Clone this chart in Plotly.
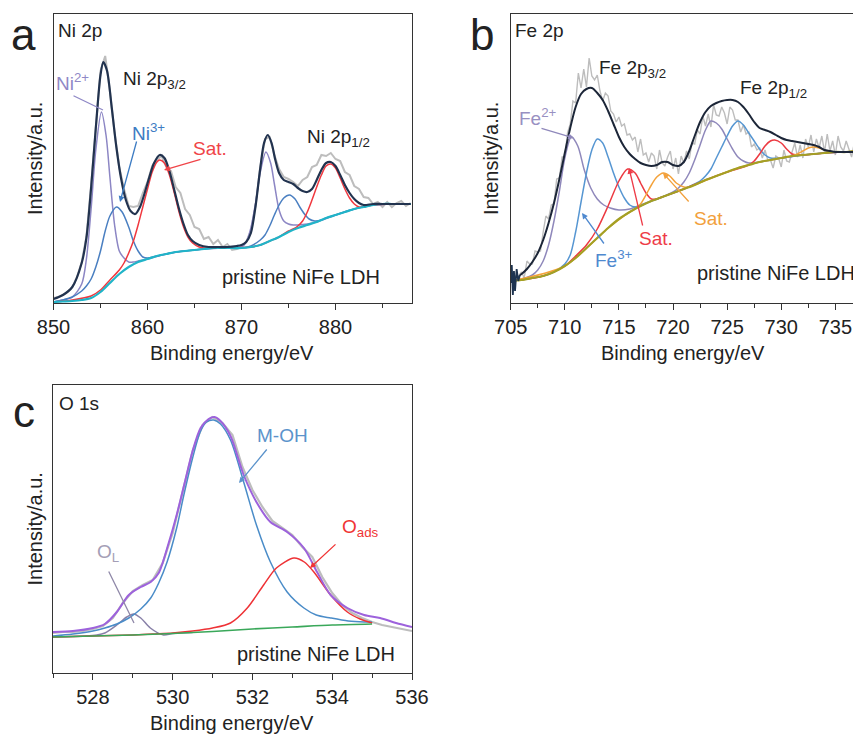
import plotly.graph_objects as go

# ---------------- Panel a : Ni 2p ----------------
NI_BG_X = [850, 851, 852, 853, 854, 855, 856, 857, 858, 859, 860, 861, 862, 863, 864, 865, 866, 867, 868, 869,
           870, 871, 872, 873, 874, 875, 876, 877, 878, 879, 880, 881, 882, 883, 884, 885, 886, 887, 888]
NI_BG_Y = [1, 1.5, 2, 3, 5, 11, 20, 29, 36, 41, 44, 47, 49, 51, 52, 53, 54, 55, 55, 55,
           55, 56, 58, 62, 66, 71, 75, 78, 81, 85, 88, 91, 94, 96, 98, 99, 99, 99, 99]

NI2_X = [850, 851, 852, 853, 853.5, 854, 854.5, 855.1, 855.6, 856, 856.5, 857, 857.5, 858, 858.5, 859, 860, 862,
         864, 866, 868, 869, 870, 870.5, 871, 871.5, 872, 872.6, 873.1, 873.5, 874, 874.5, 875, 875.5, 876, 877,
         878, 880, 882, 884, 886, 888]
NI2_Y = [1, 3, 6, 19, 44, 94, 153, 191, 167, 126, 78, 52, 45, 41, 41, 42, 44, 49,
         52, 54, 55, 55, 56, 61, 75, 100, 131, 151, 140, 119, 93, 82, 79, 78, 78, 79,
         81, 88, 94, 98, 99, 99]

NI3_X = [850, 851, 852, 853, 853.5, 854, 854.5, 855, 855.5, 856, 856.7, 857.3, 858, 858.5, 859, 859.5, 860, 861,
         863, 865, 867, 869, 870, 871, 872, 872.5, 873, 873.5, 874, 874.5, 875.1, 875.7, 876.2, 876.7, 877.2,
         877.8, 878.5, 879, 880, 882, 884, 886, 888]
NI3_Y = [1, 3, 6, 12, 17, 24, 36, 52, 72, 87, 96, 91, 76, 62, 52, 46, 45, 47,
         51, 53, 55, 55, 55, 57, 63, 68, 77, 88, 98, 105, 108, 104, 96, 89, 84,
         82, 83, 85, 88, 94, 98, 99, 99]

NI_SAT_X = [850, 852, 854, 855, 856, 857, 857.5, 858, 858.5, 859, 859.5, 860, 860.5, 861, 861.3, 861.8, 862.3,
            862.8, 863.3, 863.8, 864.3, 864.8, 865.5, 866, 867, 869, 871, 872, 873, 874, 875, 875.5, 876, 876.5,
            877, 877.5, 878, 878.5, 879, 879.5, 880, 880.5, 881, 881.5, 882, 882.5, 883, 884, 886, 888]
NI_SAT_Y = [1, 3, 7, 13, 23, 33, 40, 50, 62, 78, 96, 114, 131, 141, 143, 140, 129,
            112, 93, 77, 66, 60, 56, 55, 55, 55, 56, 58, 62, 66, 72, 74, 77, 82,
            91, 103, 116, 128, 137, 139, 135, 125, 114, 105, 99, 96, 96, 98, 99, 99]

NI_ENV_X = [850, 851, 852, 853, 853.5, 854, 854.5, 855, 855.3, 855.7, 856.2, 856.7, 857.2, 857.7, 858.2, 858.7,
            859.2, 859.7, 860.2, 860.7, 861.3, 861.8, 862.3, 862.8, 863.3, 863.8, 864.3, 864.8, 865.5, 866.5,
            867.5, 868.5, 869.5, 870, 870.5, 871, 871.5, 872, 872.4, 872.8, 873.2, 873.6, 874, 874.5, 875,
            875.5, 876, 876.5, 877, 877.5, 878, 878.5, 879, 879.5, 880, 880.5, 881, 881.5, 882, 882.5, 883,
            884, 885, 886, 887, 888]
NI_ENV_Y = [4, 8, 16, 40, 65, 115, 175, 228, 241, 232, 195, 155, 124, 103, 92, 89,
            96, 110, 126, 140, 148, 145, 133, 115, 96, 80, 68, 62, 58, 56,
            56, 56, 57, 58, 61, 70, 97, 135, 160, 168, 160, 143, 130, 123, 121,
            119, 115, 112, 111, 114, 123, 133, 140, 141, 137, 128, 118, 110, 104, 100, 98,
            99, 99, 99, 99, 99]

NI_RAW_X0, NI_RAW_STEP = 850, 0.5
NI_RAW_Y = [5, 6, 8, 11, 16, 26, 41, 66, 118, 178, 232, 247, 212, 170, 136, 114, 97, 96, 97, 110,
            121, 137, 143, 147, 136, 132, 116, 110, 94, 88, 76, 74, 64, 66, 59, 63, 56, 59, 53, 54,
            56, 61, 72, 98, 136, 164, 166, 148, 134, 126, 124, 121, 117, 123, 126, 136, 138, 148, 147,
            150, 144, 142, 131, 128, 117, 114, 106, 105, 99, 101, 96, 101, 96, 100, 102, 97, 100]

# ---------------- Panel b : Fe 2p ----------------
FE_BG_X = [705, 706, 707, 708, 709, 710, 711, 712, 713, 714, 715, 716, 717, 718, 719, 720, 721, 722, 723, 724,
           725, 726, 727, 728, 729, 730, 731, 732, 733, 734, 735, 736, 737, 737.4]
FE_BG_Y = [22, 23, 25, 27, 31, 37, 45, 55, 65, 75, 84, 91, 97, 102, 106, 110, 114, 118, 123, 127,
           131, 135, 138, 141, 143, 145, 147, 148, 149, 150, 151, 151, 152, 152]

FE2_X = [705, 706, 707, 707.5, 708, 708.5, 709, 709.5, 710, 710.6, 711.2, 711.8, 712.4, 713, 713.6, 714.2, 715,
         716, 717, 718, 719, 720, 720.5, 721, 721.5, 722, 722.5, 723, 723.5, 724, 724.5, 725, 725.5, 726, 726.5,
         727, 728, 730, 732, 734, 736, 737.4]
FE2_Y = [22, 24, 28, 33, 42, 58, 82, 112, 145, 166, 157, 133, 115, 104, 98, 95, 93,
         94, 98, 102, 106, 111, 115, 121, 130, 143, 158, 173, 182, 180, 174, 164, 154, 146, 142,
         140, 141, 145, 148, 150, 151, 152]

FE3_X = [705, 707, 708, 709, 710, 710.5, 711, 711.5, 712, 712.5, 713, 713.5, 714, 714.5, 715, 715.5, 716, 716.5,
         717, 718, 719, 720, 721, 722, 722.5, 723, 723.5, 724, 724.5, 725, 725.5, 726, 726.5, 727, 727.5, 728,
         728.5, 729, 730, 732, 734, 736, 737.4]
FE3_Y = [22, 25, 27, 31, 39, 48, 71, 101, 130, 153, 164, 160, 146, 130, 116, 105, 98, 96,
         97, 102, 106, 110, 114, 119, 122, 127, 134, 145, 156, 167, 177, 182, 178, 170, 162, 154,
         148, 145, 145, 148, 150, 151, 152]

FE_SAT_X = [705, 708, 710, 711, 712, 713, 714, 715, 715.8, 716.5, 717, 717.5, 718, 718.5, 719, 721, 723, 725,
            727, 727.5, 728, 728.5, 729, 729.4, 730, 730.5, 731, 731.5, 732, 734, 736, 737.4]
FE_SAT_Y = [22, 27, 37, 47, 58, 74, 97, 122, 134, 130, 120, 110, 104, 104, 106, 114, 123, 131,
            138, 142, 149, 157, 162, 163, 160, 154, 149, 148, 148, 150, 151, 152]

FE_SAT2_X = [705, 710, 714, 716, 716.5, 717, 717.5, 718, 718.5, 719.1, 719.7, 720.3, 721, 721.5, 722, 724, 726,
             728, 730, 731, 731.5, 732, 732.5, 733, 733.5, 734, 734.5, 735, 736, 737.4]
FE_SAT2_Y = [22, 37, 75, 91, 94, 99, 108, 118, 126, 130, 127, 120, 116, 116, 118, 127, 135,
             141, 145, 147, 149, 152, 155, 156, 155, 153, 151, 151, 151, 152]

FE_ENV_X = [705.85, 706, 706.5, 707, 707.5, 708, 708.5, 709, 709.5, 710, 710.5, 711, 711.5, 712, 712.5, 713,
            713.5, 714, 714.5, 715, 715.5, 716, 716.5, 717, 717.5, 718, 718.5, 719, 719.5, 720, 720.5, 721,
            721.5, 722, 722.5, 723, 723.5, 724, 724.5, 725, 725.5, 726, 726.5, 727, 727.5, 728, 728.5, 729,
            729.5, 730, 730.5, 731, 731.5, 732, 732.5, 733, 733.5, 734, 734.5, 735, 736, 737.4]
FE_ENV_Y = [28, 29, 34, 41, 50, 63, 80, 100, 124, 150, 175, 196, 209, 214, 215, 210,
            203, 192, 179, 166, 156, 149, 144, 140, 138, 137, 138, 141, 141, 138, 137, 141,
            152, 167, 181, 191, 197, 200, 202, 203, 203, 201, 196, 189, 181, 175, 173, 171,
            168, 165, 163, 162, 161, 160, 159, 158, 156, 153, 152, 151, 151, 151]

FE_DARK_X = [705, 705.1, 705.2, 705.3, 705.4, 705.55, 705.7, 705.85]
FE_DARK_Y = [20, 38, 8, 32, 12, 34, 22, 28]

FE_RAW_X0, FE_RAW_STEP = 705, 0.25
FE_RAW_Y = [21, 26, 27, 27, 31, 25, 42, 39, 39, 52, 51, 52, 71, 87, 84, 98, 99, 124, 125, 146,
            146, 170, 179, 202, 200, 230, 215, 234, 216, 245, 227, 223, 228, 212, 202, 210, 207, 192, 189, 181,
            186, 177, 179, 168, 169, 163, 166, 151, 164, 148, 150, 141, 150, 147, 134, 153, 140, 137, 146, 152,
            134, 145, 129, 147, 140, 152, 144, 160, 159, 173, 169, 187, 177, 189, 176, 198, 188, 187, 196, 190,
            179, 196, 193, 183, 183, 171, 178, 169, 171, 156, 159, 153, 155, 145, 153, 143, 143, 135, 147, 145,
            136, 153, 142, 141, 151, 160, 146, 158, 145, 164, 156, 168, 151, 164, 155, 167, 151, 169, 152, 162,
            148, 167, 156, 152, 162, 155, 146, 160, 161, 150, 154]

# ---------------- Panel c : O 1s ----------------
O_BG_X = [527, 528, 529, 530, 531, 532, 533, 534, 535]
O_BG_Y = [36, 37, 38, 39.5, 41.5, 44, 46, 48, 49]

O_L_X = [527, 527.8, 528.1, 528.3, 528.6, 528.85, 529.02, 529.2, 529.44, 529.77, 530, 530.5]
O_L_Y = [36, 37, 38, 40, 48, 56, 59, 55, 45, 38, 39.5, 40.5]

O_MOH_X = [527, 527.5, 528, 528.3, 528.6, 528.9, 529.2, 529.45, 529.65, 529.86, 530.1, 530.28, 530.5, 530.69,
           530.85, 531.03, 531.2, 531.45, 531.78, 532.1, 532.45, 532.87, 533.29, 533.6, 533.96, 534.4, 534.8, 535]
O_MOH_Y = [37, 39, 42, 45, 49, 55, 64, 75, 90, 111, 145, 178, 215, 241,
           251, 253, 249, 233, 191, 148, 111, 81, 65, 58, 55, 52, 51, 51]

O_ADS_X = [527, 528, 529, 529.5, 530, 530.5, 531, 531.45, 531.87, 532.28, 532.6, 533.04, 533.3, 533.54, 533.96,
           534.38, 534.7, 535]
O_ADS_Y = [36, 37, 38, 39, 40, 42, 45, 50, 65, 88, 105, 115, 111, 101, 78,
           61, 54, 50]

O_ENV_X = [527, 527.5, 528, 528.3, 528.6, 528.9, 529.2, 529.45, 529.65, 529.9, 530.1, 530.3, 530.5, 530.7, 530.9,
           531.05, 531.2, 531.45, 531.78, 532.1, 532.45, 532.87, 533.29, 533.62, 533.96, 534.38, 534.8, 535.2,
           535.6, 536]
O_ENV_Y = [41, 42, 45, 49, 61, 78, 86, 91, 100, 130, 158, 190, 222, 245, 254,
           256, 252, 237, 198, 171, 151, 141, 125, 101, 78, 65, 58, 55,
           50, 46]

O_RAW_X0, O_RAW_STEP = 527, 0.25
O_RAW_Y = [40, 41, 41, 42, 44, 47, 55, 70, 82, 88, 93, 110, 140, 182, 222, 248, 256, 250, 238, 206,
           183, 166, 152, 145, 138, 126, 116, 96, 80, 68, 60, 55, 51, 48, 46, 44, 42]

# tick values
NI_TICKS = [850, 860, 870, 880]
FE_TICKS = [705, 710, 715, 720, 725, 730, 735]
O_TICKS = [528, 530, 532, 534, 536]

# ---------------- figure ----------------
# the page body keeps its default 8 px margin, so the figure is drawn 8 px in
PAGE_W, PAGE_H, OFF = 861, 740, 8
W, H = PAGE_W - OFF, PAGE_H - OFF
FONT = "Liberation Sans, Arial, sans-serif"


def PX(x):
    return (x - OFF) / W


def PY(y):
    return 1 - (y - OFF) / H


fig = go.Figure()


def add(xs, ys, color, width, ax, shape="spline"):
    xa = "x" if ax == 1 else "x%d" % ax
    ya = "y" if ax == 1 else "y%d" % ax
    ln = dict(color=color, width=width, shape=shape)
    if shape == "spline":
        ln["smoothing"] = 0.8
    fig.add_trace(go.Scatter(x=xs, y=ys, mode="lines", line=ln, xaxis=xa, yaxis=ya,
                             hoverinfo="skip", showlegend=False))


def grid(x0, step, n):
    return [x0 + i * step for i in range(n)]


GRAY = "#bdbdbd"
# panel a
add(grid(NI_RAW_X0, NI_RAW_STEP, len(NI_RAW_Y)), NI_RAW_Y, GRAY, 2.0, 1, "linear")
add(NI2_X, NI2_Y, "#8c86c4", 1.5, 1)
add(NI3_X, NI3_Y, "#4a7fc1", 1.5, 1)
add(NI_SAT_X, NI_SAT_Y, "#f0383f", 1.5, 1)
add(NI_BG_X, NI_BG_Y, "#20b4c8", 2.2, 1)
add(NI_ENV_X, NI_ENV_Y, "#22334f", 2.2, 1)
# panel b
add(grid(FE_RAW_X0, FE_RAW_STEP, len(FE_RAW_Y)), FE_RAW_Y, GRAY, 1.4, 2, "linear")
add(FE2_X, FE2_Y, "#8f88bb", 1.5, 2)
add(FE3_X, FE3_Y, "#5696d2", 1.5, 2)
add(FE_SAT_X, FE_SAT_Y, "#ec3a42", 1.5, 2)
add(FE_SAT2_X, FE_SAT2_Y, "#f4a23a", 1.5, 2)
add(FE_BG_X, FE_BG_Y, "#a4a024", 2.2, 2)
add(FE_DARK_X, FE_DARK_Y, "#1d3350", 1.8, 2, "linear")
add(FE_ENV_X, FE_ENV_Y, "#1c2638", 2.0, 2)
# panel c
add(grid(O_RAW_X0, O_RAW_STEP, len(O_RAW_Y)), O_RAW_Y, GRAY, 2.2, 3, "linear")
add(O_L_X, O_L_Y, "#8880a8", 1.5, 3)
add(O_MOH_X, O_MOH_Y, "#4a8cc8", 1.5, 3)
add(O_ADS_X, O_ADS_Y, "#ee3236", 1.5, 3)
add(O_BG_X, O_BG_Y, "#3aa85a", 1.6, 3)
add(O_ENV_X, O_ENV_Y, "#9d62dc", 2.0, 3)

AX_COL = "#333333"
xcommon = dict(showline=True, linecolor=AX_COL, linewidth=1.3, mirror=True, ticks="outside",
               ticklen=6, tickwidth=1.3, tickcolor=AX_COL, showgrid=False, zeroline=False,
               automargin=False,
               tickfont=dict(family=FONT, size=20, color="#222222"))
ycommon = dict(showline=True, linecolor=AX_COL, linewidth=1.3, mirror=True, ticks="",
               showticklabels=False, showgrid=False, zeroline=False, automargin=False)

yd_top = [PY(303), PY(14)]
yd_bot = [PY(673), PY(385)]

fig.update_layout(
    template="none",
    width=W, height=H, margin=dict(l=0, r=0, t=0, b=0, pad=0, autoexpand=False),
    paper_bgcolor="white", plot_bgcolor="white", showlegend=False,
    xaxis=dict(domain=[PX(53.5), PX(412)], range=[850, 888.14], tickvals=NI_TICKS,
               minor=dict(dtick=5, tick0=850, ticks="outside", ticklen=3.5, tickwidth=1.2, tickcolor=AX_COL),
               anchor="y", **xcommon),
    yaxis=dict(domain=yd_top, range=[0, 289], anchor="x", **ycommon),
    xaxis2=dict(domain=[PX(510.7), 1.0], range=[705, 737.37], tickvals=FE_TICKS,
                minor=dict(dtick=2.5, tick0=705, ticks="outside", ticklen=3.5, tickwidth=1.2, tickcolor=AX_COL),
                anchor="y2", **xcommon),
    yaxis2=dict(domain=yd_top, range=[0, 289], anchor="x2", **ycommon),
    xaxis3=dict(domain=[PX(53), PX(412)], range=[527, 536], tickvals=O_TICKS,
                minor=dict(dtick=1, tick0=527, ticks="outside", ticklen=3.5, tickwidth=1.2, tickcolor=AX_COL),
                anchor="y3", **xcommon),
    yaxis3=dict(domain=yd_bot, range=[0, 288], anchor="x3", **ycommon),
)

ann = []


def text(x, y, s, size=20, color="#222222", anchor="left"):
    ann.append(dict(x=PX(x), y=PY(y), xref="paper", yref="paper", text=s, showarrow=False,
                    xanchor=anchor, yanchor="middle", font=dict(family=FONT, size=size, color=color)))


def arrow(tx, ty, hx, hy, color, head=2):
    ann.append(dict(x=PX(hx), y=PY(hy), xref="paper", yref="paper", text="", showarrow=True,
                    ax=tx - hx, ay=ty - hy, axref="pixel", ayref="pixel", arrowhead=head,
                    arrowsize=0.9, arrowwidth=1.3, arrowcolor=color, standoff=0, startstandoff=0))


def vtext(x, y, s):
    ann.append(dict(x=PX(x), y=PY(y), xref="paper", yref="paper", text=s, showarrow=False,
                    textangle=-90, xanchor="center", yanchor="middle",
                    font=dict(family=FONT, size=20, color="#222222")))


# panel letters
text(24, 34, "a", size=44, anchor="center")
text(482, 34, "b", size=44, anchor="center")
text(24, 411, "c", size=44, anchor="center")

# axis titles
text(232.5, 353, "Binding energy/eV", anchor="center")
text(683, 353, "Binding energy/eV", anchor="center")
text(232.5, 723, "Binding energy/eV", anchor="center")
vtext(34.5, 158.5, "Intensity/a.u.")
vtext(490.5, 158.5, "Intensity/a.u.")
vtext(34.5, 529, "Intensity/a.u.")

# panel a labels
text(56, 31, "Ni 2p", size=19)
text(121, 80, "Ni 2p<sub>3/2</sub>", size=19)
text(54, 82, "Ni<sup>2+</sup>", size=19, color="#8f88c6")
arrow(72, 95, 103, 110, "#8f88c6", head=0)
text(130, 132, "Ni<sup>3+</sup>", size=19, color="#3d7cc3")
arrow(137, 140, 120, 202, "#3d7cc3")
text(191, 148, "Sat.", size=19, color="#f04448")
arrow(202, 159, 164, 170, "#f04448")
text(305, 138, "Ni 2p<sub>1/2</sub>", size=19)
text(220, 277, "pristine NiFe LDH", size=20)

# panel b labels
text(513, 31, "Fe 2p", size=19)
text(597, 69, "Fe 2p<sub>3/2</sub>", size=19)
text(738, 89, "Fe 2p<sub>1/2</sub>", size=19)
text(517, 117, "Fe<sup>2+</sup>", size=19, color="#9890c2")
arrow(540, 128, 574, 138, "#8f88bb")
text(593, 259, "Fe<sup>3+</sup>", size=19, color="#4f89cf")
arrow(605, 245, 582, 213, "#4f89cf")
text(637, 238, "Sat.", size=19, color="#ee3c48")
arrow(643, 227, 629, 168, "#ee3c48")
text(692, 218, "Sat.", size=19, color="#f2a03c")
arrow(690, 203, 663, 173, "#f2a03c")
text(695, 273, "pristine NiFe LDH", size=20)

# panel c labels
text(57, 403, "O 1s", size=19)
text(255, 435, "M-OH", size=19, color="#5b93cb")
arrow(268, 448, 239, 483, "#5b93cb")
text(95, 553, "O<sub>L</sub>", size=19, color="#a49eb6")
arrow(108, 570, 134, 623, "#8f88a8", head=0)
text(340, 528, "O<sub>ads</sub>", size=19, color="#f03434")
arrow(337, 543, 310, 568, "#f03434")
text(235, 654, "pristine NiFe LDH", size=20)

fig.update_layout(annotations=ann)
fig.write_html("out.html")
